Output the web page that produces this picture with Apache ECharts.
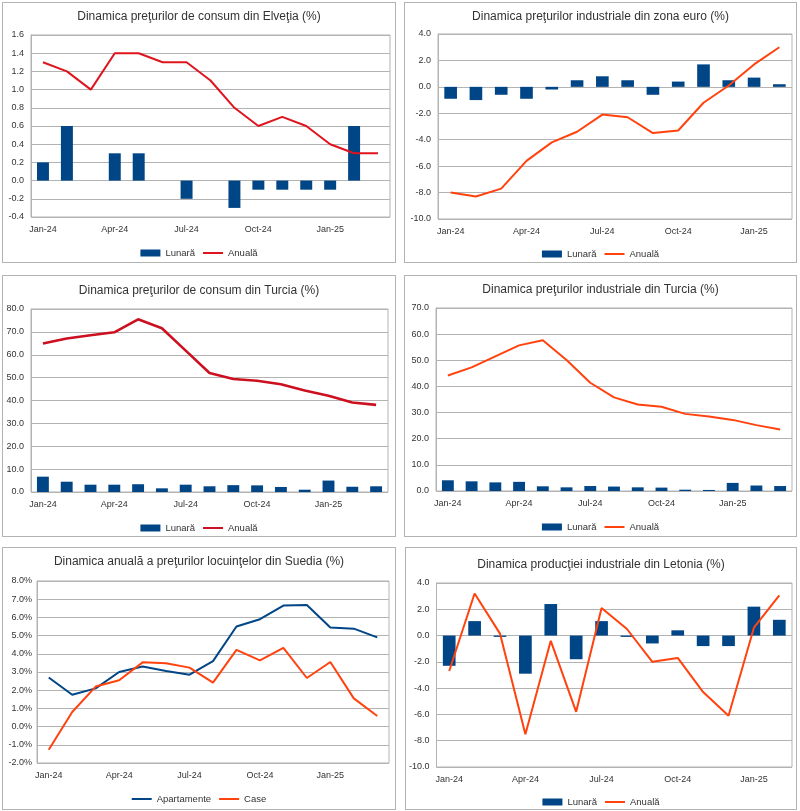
<!DOCTYPE html>
<html>
<head>
<meta charset="utf-8">
<script src="https://cdn.jsdelivr.net/npm/echarts@6/dist/echarts.min.js"></script>
<style>
html,body{margin:0;padding:0;background:#fff;width:800px;height:811px;overflow:hidden;}
.p{position:absolute;box-sizing:border-box;border:1px solid #b3b3b3;background:#fff;}
</style>
</head>
<body>
<div class="p" id="c1" style="left:2px;top:2px;width:394px;height:261px;"></div>
<div class="p" id="c2" style="left:404px;top:2px;width:393px;height:261px;"></div>
<div class="p" id="c3" style="left:2px;top:275px;width:394px;height:262px;"></div>
<div class="p" id="c4" style="left:404px;top:275px;width:393px;height:262px;"></div>
<div class="p" id="c5" style="left:2px;top:547px;width:394px;height:263px;"></div>
<div class="p" id="c6" style="left:405px;top:547px;width:392px;height:263px;"></div>
<script>
// ---------- DATA ----------
const months15 = ['Jan-24','Feb-24','Mar-24','Apr-24','May-24','Jun-24','Jul-24','Aug-24','Sep-24','Oct-24','Nov-24','Dec-24','Jan-25','Feb-25','Mar-25'];
const months14 = ['Jan-24','Feb-24','Mar-24','Apr-24','May-24','Jun-24','Jul-24','Aug-24','Sep-24','Oct-24','Nov-24','Dec-24','Jan-25','Feb-25'];

// 1. Elveția – prețuri de consum
const chCpiMonthly = [0.2, 0.6, 0.0, 0.3, 0.3, 0.0, -0.2, 0.0, -0.3, -0.1, -0.1, -0.1, -0.1, 0.6, 0.0];
const chCpiAnnual  = [1.3, 1.2, 1.0, 1.4, 1.4, 1.3, 1.3, 1.1, 0.8, 0.6, 0.7, 0.6, 0.4, 0.3, 0.3];

// 2. Zona euro – prețuri industriale
const euPpiMonthly = [-0.9, -1.0, -0.6, -0.9, -0.2, 0.5, 0.8, 0.5, -0.6, 0.4, 1.7, 0.5, 0.7, 0.2];
const euPpiAnnual  = [-8.0, -8.3, -7.7, -5.6, -4.2, -3.4, -2.1, -2.3, -3.5, -3.3, -1.2, 0.1, 1.7, 3.0];

// 3. Turcia – prețuri de consum
const trCpiMonthly = [6.7, 4.5, 3.2, 3.2, 3.4, 1.6, 3.2, 2.5, 3.0, 2.9, 2.2, 1.0, 5.0, 2.3, 2.5];
const trCpiAnnual  = [64.9, 67.1, 68.5, 69.8, 75.5, 71.6, 61.8, 52.0, 49.4, 48.6, 47.1, 44.4, 42.1, 39.1, 38.1];

// 4. Turcia – prețuri industriale
const trPpiMonthly = [4.1, 3.7, 3.3, 3.5, 1.8, 1.4, 1.9, 1.7, 1.4, 1.3, 0.5, 0.4, 3.1, 2.1, 1.9];
const trPpiAnnual  = [44.2, 47.3, 51.5, 55.7, 57.7, 50.1, 41.4, 35.8, 33.1, 32.2, 29.5, 28.5, 27.2, 25.2, 23.5];

// 5. Suedia – prețuri locuințe (%)
const seApartments = [2.7, 1.75, 2.1, 3.0, 3.3, 3.05, 2.85, 3.6, 5.5, 5.9, 6.65, 6.68, 5.45, 5.38, 4.9];
const seHouses     = [-1.27, 0.8, 2.2, 2.55, 3.53, 3.48, 3.24, 2.42, 4.22, 3.64, 4.33, 2.67, 3.55, 1.55, 0.58];

// 6. Letonia – producție industrială
const lvIpMonthly = [-2.3, 1.1, -0.1, -2.9, 2.4, -1.8, 1.1, -0.1, -0.6, 0.4, -0.8, -0.8, 2.2, 1.2];
const lvIpAnnual  = [-2.7, 3.2, 0.15, -7.5, -0.4, -5.8, 2.1, 0.5, -2.0, -1.7, -4.3, -6.1, 0.6, 3.05];

// ---------- STYLE ----------
const FONT = "'Liberation Sans', Arial, sans-serif";
const BLUE = '#004586';
const ORANGE = '#ff420e';
const GRID_C = '#b3b3b3';
const LINE_ICON = 'path://M0,0 M20,7 M0,2.5 L20,2.5 L20,4.5 L0,4.5 Z';

function build(id, cfg) {
  const chart = echarts.init(document.getElementById(id), null, {renderer: 'canvas'});
  const series = cfg.series.map(s => {
    if (s.type === 'bar') {
      return {name: s.name, type: 'bar', data: s.data, barWidth: '50%',
        itemStyle: {color: s.color}, z: 2, animation: false};
    }
    return {name: s.name, type: 'line', data: s.data, symbol: 'none', showSymbol: false,
      lineStyle: {color: s.color, width: s.width || 2}, itemStyle: {color: s.color},
      z: 3, animation: false};
  });
  chart.setOption({
    animation: false,
    textStyle: {fontFamily: FONT},
    title: {text: cfg.title, left: 'center', top: cfg.titleTop,
      textStyle: {fontFamily: FONT, fontSize: 12, fontWeight: 'normal', color: '#333'}},
    legend: {top: cfg.legendTop, left: 'center', itemWidth: 20, itemHeight: 7, itemGap: 8,
      itemStyle: {borderWidth: 0},
      textStyle: {fontFamily: FONT, fontSize: 9.5, color: '#333'},
      data: cfg.series.map(s => ({name: s.name, icon: s.type === 'bar' ? 'rect' : LINE_ICON}))},
    grid: Object.assign({show: true, borderColor: GRID_C, borderWidth: 1, containLabel: false}, cfg.grid),
    xAxis: {type: 'category', data: cfg.cats, boundaryGap: true,
      axisLine: {show: false, onZero: false},
      axisTick: {show: false},
      axisLabel: {interval: 2, fontFamily: FONT, fontSize: 9, color: '#333', margin: 8}},
    yAxis: {type: 'value', min: cfg.min, max: cfg.max, interval: cfg.interval,
      axisLine: {show: true, lineStyle: {color: GRID_C}},
      axisTick: {show: false},
      splitLine: {show: true, lineStyle: {color: GRID_C, width: 1}},
      axisLabel: {fontFamily: FONT, fontSize: 9, color: '#333', margin: cfg.yMargin || 7,
        formatter: cfg.fmt}},
    series: series
  });
}

const f1 = v => v.toFixed(1);

build('c1', {
  title: 'Dinamica preţurilor de consum din Elveţia (%)', titleTop: 3, legendTop: 240,
  grid: {left: 28, right: 5, top: 32, bottom: 45},
  cats: months15, min: -0.4, max: 1.6, interval: 0.2, fmt: f1,
  series: [
    {name: 'Lunară', type: 'bar', data: chCpiMonthly, color: BLUE},
    {name: 'Anuală', type: 'line', data: chCpiAnnual, color: '#e0141e', width: 2}
  ]
});

build('c2', {
  title: 'Dinamica preţurilor industriale din zona euro (%)', titleTop: 3, legendTop: 241,
  grid: {left: 33, right: 4, top: 31, bottom: 43},
  cats: months14, min: -10, max: 4, interval: 2, fmt: f1,
  series: [
    {name: 'Lunară', type: 'bar', data: euPpiMonthly, color: BLUE},
    {name: 'Anuală', type: 'line', data: euPpiAnnual, color: ORANGE, width: 2}
  ]
});

build('c3', {
  title: 'Dinamica preţurilor de consum din Turcia (%)', titleTop: 4, legendTop: 242,
  grid: {left: 28, right: 7, top: 33, bottom: 44},
  cats: months15, min: 0, max: 80, interval: 10, fmt: f1,
  series: [
    {name: 'Lunară', type: 'bar', data: trCpiMonthly, color: BLUE},
    {name: 'Anuală', type: 'line', data: trCpiAnnual, color: '#cc1020', width: 2.6}
  ]
});

build('c4', {
  title: 'Dinamica preţurilor industriale din Turcia (%)', titleTop: 3, legendTop: 241,
  grid: {left: 31, right: 4, top: 32, bottom: 45},
  cats: months15, min: 0, max: 70, interval: 10, fmt: f1,
  series: [
    {name: 'Lunară', type: 'bar', data: trPpiMonthly, color: BLUE},
    {name: 'Anuală', type: 'line', data: trPpiAnnual, color: ORANGE, width: 2}
  ]
});

build('c5', {
  title: 'Dinamica anuală a preţurilor locuinţelor din Suedia (%)', titleTop: 3, legendTop: 241,
  grid: {left: 34, right: 6, top: 33, bottom: 46},
  cats: months15, min: -2, max: 8, interval: 1, fmt: v => v.toFixed(1) + '%', yMargin: 5,
  series: [
    {name: 'Apartamente', type: 'line', data: seApartments, color: BLUE, width: 2},
    {name: 'Case', type: 'line', data: seHouses, color: ORANGE, width: 2}
  ]
});

build('c6', {
  title: 'Dinamica producţiei industriale din Letonia (%)', titleTop: 6, legendTop: 244,
  grid: {left: 30, right: 4, top: 35, bottom: 42},
  cats: months14, min: -10, max: 4, interval: 2, fmt: f1,
  series: [
    {name: 'Lunară', type: 'bar', data: lvIpMonthly, color: BLUE},
    {name: 'Anuală', type: 'line', data: lvIpAnnual, color: ORANGE, width: 2}
  ]
});
</script>
</body>
</html>
